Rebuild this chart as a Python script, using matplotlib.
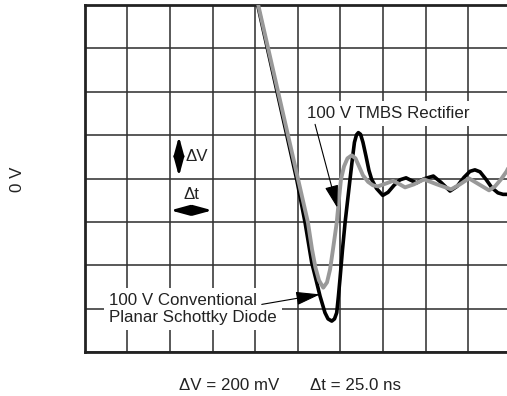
import matplotlib
matplotlib.use("Agg")
import matplotlib.pyplot as plt

plt.rcParams['font.family'] = ['Liberation Sans', 'DejaVu Sans']

# Time in ns (25 ns/div), voltage in mV (200 mV/div)
tmbs_t = [100.8, 131.0, 133.4, 135.4, 137.5, 140.0, 142.2, 144.0, 145.7, 147.9,
          149.2, 150.4, 152.2, 154.2, 156.7, 158.9, 161.0, 163.3, 166.3, 169.2,
          172.1, 176.2, 180.9, 184.4, 188.0, 193.2, 199.1, 206.7, 215.0, 220.2,
          225.5, 231.4, 237.3, 240.8, 244.3, 247.6, 249.6, 252.5]
tmbs_v = [835.5, -201.4, -325.8, -408.8, -468.7, -502.3, -477.9, -418.0, -325.8, -202.8,
          -95.4, -3.2, 56.7, 93.5, 107.4, 93.5, 56.7, 15.2, -14.7, -30.9,
          -35.5, -24.0, -10.1, -24.0, -40.1, -26.3, -3.2, -26.3, -49.3, -26.3,
          1.4, -26.3, -53.9, -35.5, -3.2, 33.6, 65.9, 112.0]

conv_t = [100.5, 124.4, 129.3, 133.2, 135.7, 138.1, 141.0, 142.8, 145.0, 146.6,
          147.9, 148.9, 149.8, 151.3, 152.8, 155.7, 157.2, 158.3, 159.5, 160.6,
          161.9, 163.3, 165.1, 166.8, 168.4, 171.2, 174.9, 178.0, 181.5, 185.0,
          188.6, 191.5, 194.8, 199.1, 204.6, 209.1, 214.4, 218.5, 222.6, 226.1,
          229.0, 232.0, 235.5, 239.0, 242.5, 245.5, 249.6]
conv_v = [835.5, -3.2, -201.4, -385.7, -464.0, -541.0, -617.5, -646.1, -656.2, -646.1,
          -617.5, -541.0, -464.0, -325.8, -202.8, -3.2, 98.2, 167.3, 201.8, 212.0,
          204.1, 167.3, 102.8, 38.2, -3.2, -44.7, -77.0, -63.1, -30.9, -5.5,
          3.7, -7.8, -19.4, -0.9, 12.0, -17.1, -57.1, -35.5, 6.0, 33.6,
          40.6, 31.3, -3.2, -42.4, -65.4, -72.4, -72.4]

x_ticks = [0, 25, 50, 75, 100, 125, 150, 175, 200, 225, 250]
y_ticks = [-800, -600, -400, -200, 0, 200, 400, 600, 800]

label_tmbs = "100 V TMBS Rectifier"
label_conv = "100 V Conventional\nPlanar Schottky Diode"
zero_label = "0 V"
dv_text = "ΔV = 200 mV"
dt_text = "Δt = 25.0 ns"

fig = plt.figure(figsize=(5.07, 3.96), dpi=100)
ax = fig.add_axes([84.7 / 507, 43.7 / 396, 426 / 507, 347.3 / 396])
ax.set_xlim(0, 250)
ax.set_ylim(-800, 800)
ax.set_xticks(x_ticks)
ax.set_yticks(y_ticks)
ax.tick_params(length=0, labelbottom=False, labelleft=False)
ax.grid(True, color='#333333', linewidth=1.15)
ax.set_axisbelow(True)
for s in ['left', 'top', 'bottom']:
    ax.spines[s].set_linewidth(2.0)
    ax.spines[s].set_color('#222222')
ax.spines['right'].set_visible(False)

ax.plot(conv_t, conv_v, color='black', lw=2.6, solid_joinstyle='round',
        solid_capstyle='round', zorder=3)
ax.plot(tmbs_t, tmbs_v, color='#999999', lw=2.8, solid_joinstyle='round',
        solid_capstyle='round', zorder=4)

tc = '#222222'
fs = 12.2
ax.text(178.2, 300, label_tmbs, ha='center', va='center', fontsize=fs, color=tc,
        bbox=dict(boxstyle='square,pad=0.3', facecolor='white', edgecolor='none'),
        zorder=5)
ax.annotate('', xy=(148.2, -133.6), xytext=(135.2, 250.2),
            arrowprops=dict(arrowstyle='-|>,head_length=1.4,head_width=0.42',
                            color='black', lw=0.8, mutation_scale=10,
                            shrinkA=0, shrinkB=0), zorder=6)

ax.text(14.4, -600.7, label_conv, ha='left', va='center', fontsize=fs, color=tc,
        linespacing=1.12,
        bbox=dict(boxstyle='square,pad=0.3', facecolor='white', edgecolor='none'),
        zorder=5)
ax.annotate('', xy=(138.1, -533.2), xytext=(103.9, -579.3),
            arrowprops=dict(arrowstyle='-|>,head_length=1.5,head_width=0.42',
                            color='black', lw=0.8, mutation_scale=10,
                            shrinkA=0, shrinkB=0), zorder=6)

# Delta V / Delta t markers
ax.annotate('', xy=(55.3, 195), xytext=(55.3, 10),
            arrowprops=dict(arrowstyle='<|-|>,head_length=1.1,head_width=0.3',
                            color='black', lw=1.9, mutation_scale=10,
                            shrinkA=0, shrinkB=0), zorder=6)
ax.text(58.9, 104, "ΔV", ha='left', va='center', fontsize=fs, color=tc, zorder=6)
ax.annotate('', xy=(50.3, -146), xytext=(74.9, -146),
            arrowprops=dict(arrowstyle='<|-|>,head_length=1.1,head_width=0.3',
                            color='black', lw=1.9, mutation_scale=10,
                            shrinkA=0, shrinkB=0), zorder=6)
ax.text(62.8, -72.4, "Δt", ha='center', va='center', fontsize=fs, color=tc, zorder=6)

fig.text(17.5 / 507, 1 - 179.5 / 396, zero_label, rotation=90, ha='center',
         va='center', fontsize=fs, color=tc)
fig.text(179.3 / 507, 1 - 385 / 396, dv_text, ha='left', va='center',
         fontsize=fs, color=tc)
fig.text(310 / 507, 1 - 385 / 396, dt_text, ha='left', va='center',
         fontsize=fs, color=tc)

fig.savefig('out.png', dpi=100)
